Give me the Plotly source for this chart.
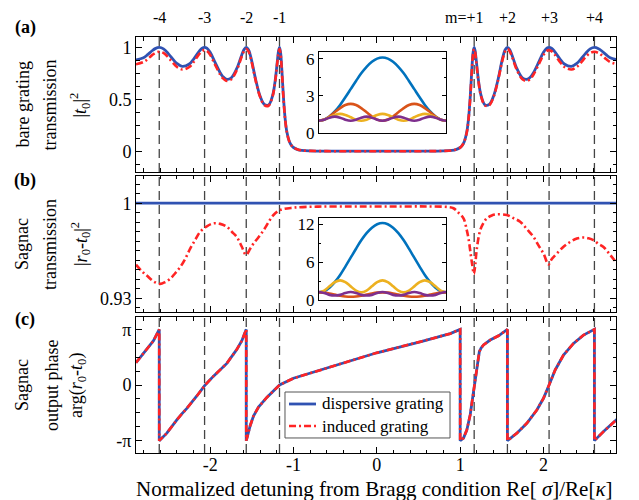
import plotly.graph_objects as go

FONT = "Liberation Serif, Times New Roman, serif"
BLUE = "#3052b2"
RED = "#ff2424"
C_BLUE = "#0072BD"
C_ORANGE = "#D95319"
C_YELLOW = "#EDB120"
C_PURPLE = "#7E2F8E"
PI = 3.14159

# ---------------- data ----------------
m_pos = [-2.611, -2.067, -1.567, -1.168, 1.168, 1.567, 2.067, 2.611]
m_labels = ["-4", "-3", "-2", "-1", "m=+1", "+2", "+3", "+4"]
series_names = ["dispersive grating", "induced grating"]

# panel (a): bare grating transmission |t0|^2
x_a = [-2.89, -2.8, -2.75, -2.7, -2.66, -2.611, -2.56, -2.5, -2.45, -2.4,
       -2.3355, -2.25, -2.2, -2.13, -2.1, -2.067, -2.04, -2.0, -1.95, -1.88,
       -1.85, -1.809, -1.75, -1.68, -1.62, -1.59, -1.5666, -1.54, -1.52, -1.5,
       -1.45, -1.4, -1.35, -1.3, -1.25, -1.22, -1.205, -1.19, -1.18, -1.1677,
       -1.155, -1.14, -1.12, -1.1, -1.08, -1.05, -1.02, -1.0, -0.95, -0.9,
       -0.8, -0.6, -0.3, 0.0,
       0.3, 0.6, 0.8, 0.9, 0.95, 1.0, 1.02, 1.05, 1.08, 1.1,
       1.12, 1.14, 1.155, 1.1677, 1.18, 1.19, 1.205, 1.22, 1.25, 1.3,
       1.35, 1.4, 1.45, 1.5, 1.52, 1.54, 1.5666, 1.59, 1.62, 1.68,
       1.75, 1.809, 1.85, 1.88, 1.95, 2.0, 2.04, 2.067, 2.1, 2.13,
       2.2, 2.25, 2.3355, 2.4, 2.45, 2.5, 2.56, 2.611, 2.66, 2.7,
       2.75, 2.8, 2.89]
t_disp = [0.880, 0.900, 0.930, 0.965, 0.988, 1.0, 0.986, 0.938, 0.889, 0.846,
          0.817, 0.840, 0.885, 0.964, 0.989, 1.0, 0.992, 0.952, 0.870, 0.756,
          0.721, 0.694, 0.704, 0.797, 0.930, 0.984, 1.0, 0.977, 0.930, 0.865,
          0.676, 0.529, 0.451, 0.445, 0.539, 0.680, 0.784, 0.898, 0.964, 1.0,
          0.952, 0.786, 0.513, 0.310, 0.187, 0.094, 0.051, 0.036, 0.016, 0.008,
          0.003, 0.0005, 0.0002, 0.0001,
          0.0002, 0.0005, 0.003, 0.008, 0.016, 0.036, 0.051, 0.094, 0.187, 0.310,
          0.513, 0.786, 0.952, 1.0, 0.964, 0.898, 0.784, 0.680, 0.539, 0.445,
          0.451, 0.529, 0.676, 0.865, 0.930, 0.977, 1.0, 0.984, 0.930, 0.797,
          0.704, 0.694, 0.721, 0.756, 0.870, 0.952, 0.992, 1.0, 0.989, 0.964,
          0.885, 0.840, 0.817, 0.846, 0.889, 0.938, 0.986, 1.0, 0.988, 0.965,
          0.930, 0.900, 0.880]
t_ind = [0.838, 0.859, 0.888, 0.923, 0.946, 0.958, 0.946, 0.901, 0.854, 0.813,
         0.787, 0.811, 0.857, 0.937, 0.962, 0.974, 0.966, 0.928, 0.848, 0.738,
         0.705, 0.679, 0.690, 0.783, 0.915, 0.969, 0.985, 0.962, 0.916, 0.852,
         0.666, 0.521, 0.444, 0.438, 0.531, 0.670, 0.772, 0.885, 0.950, 0.985,
         0.938, 0.774, 0.505, 0.305, 0.184, 0.093, 0.050, 0.035, 0.016, 0.008,
         0.003, 0.0005, 0.0002, 0.0001,
         0.0002, 0.0005, 0.003, 0.008, 0.016, 0.035, 0.050, 0.093, 0.184, 0.305,
         0.505, 0.774, 0.938, 0.985, 0.950, 0.885, 0.772, 0.670, 0.531, 0.438,
         0.444, 0.521, 0.666, 0.852, 0.916, 0.962, 0.985, 0.969, 0.915, 0.783,
         0.690, 0.679, 0.705, 0.738, 0.848, 0.928, 0.966, 0.974, 0.962, 0.937,
         0.857, 0.811, 0.787, 0.813, 0.854, 0.901, 0.946, 0.958, 0.946, 0.923,
         0.888, 0.859, 0.838]

# panel (b): Sagnac transmission |r0 - t0|^2
x_b_disp = [-2.89, 2.89]
s_disp = [1.0, 1.0]
x_b = [-2.89, -2.82, -2.76, -2.68, -2.6, -2.54, -2.48, -2.42, -2.36, -2.30,
       -2.24, -2.18, -2.12, -2.04, -1.96, -1.88, -1.80, -1.74, -1.68, -1.62,
       -1.57, -1.52, -1.48, -1.42, -1.36, -1.30, -1.24, -1.16, -1.0, -0.7,
       -0.3, 0.0, 0.3, 0.6, 0.85, 0.92, 0.98, 1.04, 1.08, 1.10,
       1.14, 1.165, 1.18, 1.20, 1.24, 1.28, 1.32, 1.38, 1.44, 1.56,
       1.64, 1.72, 1.80, 1.88, 1.94, 2.0, 2.06, 2.10, 2.16, 2.24,
       2.32, 2.40, 2.48, 2.54, 2.6, 2.66, 2.72, 2.80, 2.89]
s_ind = [0.9548, 0.950, 0.9468, 0.9425, 0.9407, 0.942, 0.9444, 0.9485, 0.953, 0.959,
         0.9666, 0.973, 0.979, 0.983, 0.9852, 0.9848, 0.9827, 0.979, 0.9752, 0.968,
         0.962, 0.9665, 0.9703, 0.975, 0.980, 0.986, 0.9913, 0.995, 0.9967, 0.9975,
         0.9976, 0.9976, 0.9976, 0.9976, 0.9972, 0.9963, 0.993, 0.9889, 0.980, 0.974,
         0.9567, 0.948, 0.9542, 0.9666, 0.980, 0.9855, 0.9889, 0.991, 0.9918, 0.9913,
         0.989, 0.9864, 0.981, 0.9752, 0.969, 0.963, 0.955, 0.959, 0.963, 0.968,
         0.9715, 0.974, 0.9748, 0.9742, 0.9728, 0.970, 0.9678, 0.962, 0.955]

# panel (c): Sagnac output phase arg(r0 - t0)
x_c = [-2.89, -2.84, -2.76, -2.68, -2.611, -2.611, -2.52, -2.46, -2.40, -2.34,
       -2.28, -2.16, -2.06, -1.96, -1.80, -1.68, -1.62, -1.567, -1.567, -1.55,
       -1.52, -1.48, -1.42, -1.32, -1.1677, -1.0, -0.68, 0.0, 0.52, 0.76,
       0.88, 1.0, 1.0, 1.04, 1.08, 1.12, 1.148, 1.172, 1.20, 1.23,
       1.25, 1.28, 1.36, 1.46, 1.567, 1.567, 1.68, 1.80, 1.92, 2.0,
       2.067, 2.14, 2.24, 2.36, 2.48, 2.611, 2.611, 2.72, 2.89]
phase = [1.26, 1.55, 1.97, 2.5, PI, -PI, -2.72, -2.33, -1.97, -1.63,
         -1.32, -0.62, 0.0, 0.5, 1.22, 2.01, 2.5, PI, -PI, -2.85,
         -2.3, -1.75, -1.25, -0.7, 0.0, 0.38, 0.85, 1.82, 2.44, 2.72,
         2.9, PI, -PI, -3.0, -2.54, -1.69, -0.75, 0.19, 1.13, 1.88,
         2.08, 2.26, 2.54, 2.78, PI, -PI, -2.72, -2.16, -1.41, -0.75,
         0.0, 0.85, 1.69, 2.35, 2.82, PI, -PI, -2.63, -1.9]

# insets: intensity along the grating at the resonances
z_in = [0.0, 0.042, 0.083, 0.125, 0.167, 0.208, 0.25, 0.292, 0.333, 0.375,
        0.417, 0.458, 0.5, 0.542, 0.583, 0.625, 0.667, 0.708, 0.75, 0.792,
        0.833, 0.875, 0.917, 0.958, 1.0]
ia_m1 = [1.0, 1.087, 1.342, 1.747, 2.275, 2.890, 3.55, 4.210, 4.825, 5.353,
         5.758, 6.013, 6.10, 6.013, 5.758, 5.353, 4.825, 4.210, 3.55, 2.890,
         2.275, 1.747, 1.342, 1.087, 1.0]
ia_m2 = [1.0, 1.091, 1.34, 1.68, 2.02, 2.269, 2.36, 2.269, 2.02, 1.68,
         1.34, 1.091, 1.0, 1.091, 1.34, 1.68, 2.02, 2.269, 2.36, 2.269,
         2.02, 1.68, 1.34, 1.091, 1.0]
ia_m3 = [1.0, 1.081, 1.275, 1.469, 1.55, 1.469, 1.275, 1.081, 1.0, 1.081,
         1.275, 1.469, 1.55, 1.469, 1.275, 1.081, 1.0, 1.081, 1.275, 1.469,
         1.55, 1.469, 1.275, 1.081, 1.0]
ia_m4 = [1.0, 1.083, 1.248, 1.33, 1.248, 1.083, 1.0, 1.083, 1.248, 1.33,
         1.248, 1.083, 1.0, 1.083, 1.248, 1.33, 1.248, 1.083, 1.0, 1.083,
         1.248, 1.33, 1.248, 1.083, 1.0]
ib_m1 = [1.2, 1.387, 1.937, 2.810, 3.95, 5.277, 6.7, 8.123, 9.45, 10.59,
         11.46, 12.01, 12.2, 12.01, 11.46, 10.59, 9.45, 8.123, 6.7, 5.277,
         3.95, 2.810, 1.937, 1.387, 1.2]
ib_m2 = [1.2, 1.153, 1.025, 0.85, 0.675, 0.547, 0.5, 0.547, 0.675, 0.85,
         1.025, 1.153, 1.2, 1.153, 1.025, 0.85, 0.675, 0.547, 0.5, 0.547,
         0.675, 0.85, 1.025, 1.153, 1.2]
ib_m3 = [1.2, 1.478, 2.15, 2.822, 3.1, 2.822, 2.15, 1.478, 1.2, 1.478,
         2.15, 2.822, 3.1, 2.822, 2.15, 1.478, 1.2, 1.478, 2.15, 2.822,
         3.1, 2.822, 2.15, 1.478, 1.2]
ib_m4 = [1.25, 1.1, 0.8, 0.7, 0.8, 1.1, 1.25, 1.1, 0.8, 0.7,
         0.8, 1.1, 1.25, 1.1, 0.8, 0.7, 0.8, 1.1, 1.25, 1.1,
         0.8, 0.7, 0.8, 1.1, 1.25]

# ---------------- figure ----------------
fig = go.Figure()
DASHDOT = "7px,3px,2px,3px"

def main_pair(xb, yb, xr, yr, xa, ya, shape):
    fig.add_trace(go.Scatter(x=xb, y=yb, xaxis=xa, yaxis=ya, mode="lines",
                             name=series_names[0], showlegend=False,
                             line=dict(color=BLUE, width=2.8, shape=shape)))
    fig.add_trace(go.Scatter(x=xr, y=yr, xaxis=xa, yaxis=ya, mode="lines",
                             name=series_names[1], showlegend=False,
                             line=dict(color=RED, width=2.6, dash=DASHDOT, shape=shape)))

main_pair(x_a, t_disp, x_a, t_ind, "x", "y", "spline")
main_pair(x_b_disp, s_disp, x_b, s_ind, "x2", "y2", "spline")
main_pair(x_c, phase, x_c, phase, "x3", "y3", "linear")

for ys, xa, ya in [([ia_m1, ia_m2, ia_m3, ia_m4], "x4", "y4"),
                   ([ib_m1, ib_m2, ib_m3, ib_m4], "x5", "y5")]:
    for yv, c in zip(ys, [C_BLUE, C_ORANGE, C_YELLOW, C_PURPLE]):
        fig.add_trace(go.Scatter(x=z_in, y=yv, xaxis=xa, yaxis=ya, mode="lines",
                                 showlegend=False,
                                 line=dict(color=c, width=2.6, shape="spline")))

TICKFONT = dict(family=FONT, size=18, color="black")
base = dict(showline=True, linecolor="black", linewidth=1, mirror="ticks",
            ticks="inside", ticklen=6, tickcolor="black", showgrid=False,
            zeroline=False, tickfont=TICKFONT)

def xmain(anchor, labels):
    d = dict(base)
    d.update(domain=[0, 1], range=[-2.89, 2.87], anchor=anchor,
             tickmode="array", tickvals=[-2, -1, 0, 1, 2],
             ticktext=["-2", "-1", "0", "1", "2"], showticklabels=labels,
             minor=dict(tickmode="linear", tick0=0, dtick=0.2, ticklen=3.5,
                        ticks="inside", tickcolor="black"))
    if labels:
        d.update(ticklabelstandoff=-5)
    return d

def ymain(anchor, dom, rng, tv, tt, t0, dt):
    d = dict(base)
    d.update(domain=dom, range=rng, anchor=anchor, tickmode="array",
             tickvals=tv, ticktext=tt,
             minor=dict(tickmode="linear", tick0=t0, dtick=dt, ticklen=3.5,
                        ticks="inside", tickcolor="black"))
    return d

def xinset(anchor):
    return dict(domain=[0.381, 0.646], range=[0, 1], anchor=anchor,
                showline=True, linecolor="black", linewidth=1, mirror=True,
                ticks="", showticklabels=False, showgrid=False, zeroline=False)

def yinset(anchor, dom, rng, tv, dt):
    d = dict(base)
    d.update(domain=dom, range=rng, anchor=anchor, tickmode="array",
             tickvals=tv, ticktext=[str(v) for v in tv], ticklen=4,
             tickfont=dict(family=FONT, size=17, color="black"),
             minor=dict(tickmode="linear", tick0=0, dtick=dt, ticklen=2.5,
                        ticks="inside", tickcolor="black"))
    return d

# page body has an 8px margin, so the figure is 8px smaller than the window
fig.update_layout(
    width=631, height=492,
    margin=dict(l=128, r=23, t=29, b=47),
    paper_bgcolor="white", plot_bgcolor="white",
    font=dict(family=FONT, size=18, color="black"),
    showlegend=False,
    xaxis=xmain("y", False),
    xaxis2=xmain("y2", False),
    xaxis3=xmain("y3", True),
    yaxis=ymain("x", [0.6755, 1.0], [-0.2, 1.1], [0, 0.5, 1], ["0", "0.5", "1"], 0, 0.125),
    yaxis2=ymain("x2", [0.3389, 0.6659], [0.92, 1.02], [0.93, 1.0], ["0.93", "1"], 0.93, 0.007),
    yaxis3=ymain("x3", [0.0, 0.3269], [-3.84, 3.84], [-PI, 0, PI], ["-\u03c0", "0", "\u03c0"], 0, PI / 4),
    xaxis4=xinset("y4"),
    yaxis4=yinset("x4", [0.769, 0.964], [0, 6.55], [0, 3, 6], 1.5),
    xaxis5=xinset("y5"),
    yaxis5=yinset("x5", [0.368, 0.565], [0, 13], [0, 6, 12], 3),
)

# dashed resonance lines in every panel
for ya in ["y", "y2", "y3"]:
    for xm in m_pos:
        fig.add_shape(type="line", xref="x", yref=ya + " domain", x0=xm, x1=xm,
                      y0=0, y1=1, layer="below",
                      line=dict(color="#444444", width=1.3, dash="9px,5px"))

# legend box drawn in panel (c)
fig.add_shape(type="rect", xref="paper", yref="paper", x0=0.3104, x1=0.6542,
              y0=0.0361, y1=0.1466, layer="above",
              fillcolor="white", line=dict(color="#555555", width=1))
fig.add_shape(type="line", xref="paper", yref="paper", x0=0.3188, x1=0.375,
              y0=0.1178, y1=0.1178, layer="above",
              line=dict(color=BLUE, width=2.8))
fig.add_shape(type="line", xref="paper", yref="paper", x0=0.3188, x1=0.375,
              y0=0.0649, y1=0.0649, layer="above",
              line=dict(color=RED, width=2.6, dash=DASHDOT))

ann = []
for name, yl in zip(series_names, [0.1178, 0.0649]):
    ann.append(dict(x=0.3833, xref="paper", y=yl, yref="paper", text=name,
                    showarrow=False, xanchor="left", yanchor="middle",
                    font=dict(family=FONT, size=17)))

for xm, lab in zip(m_pos, m_labels):
    if lab.startswith("m="):
        ann.append(dict(x=xm, xref="x", y=1.046, yref="paper", text=lab,
                        showarrow=False, xanchor="right", yanchor="middle", xshift=11,
                        borderpad=0, font=dict(family=FONT, size=16)))
    else:
        ann.append(dict(x=xm, xref="x", y=1.046, yref="paper", text=lab,
                        showarrow=False, xanchor="center", yanchor="middle",
                        borderpad=0, font=dict(family=FONT, size=16)))

# multi-line rotated y titles, one annotation per line (x in plot-fraction units)
title_lines = [
    ("bare grating", -0.2354, 0.8377),
    ("transmission", -0.1792, 0.8377),
    ("|<i>t</i><sub>0</sub>|<sup>2</sup>", -0.1167, 0.8377),
    ("Sagnac", -0.2375, 0.5024),
    ("transmission", -0.1792, 0.5024),
    ("|<i>r</i><sub>0</sub>-<i>t</i><sub>0</sub>|<sup>2</sup>", -0.1167, 0.5024),
    ("Sagnac", -0.2375, 0.1635),
    ("output phase", -0.1750, 0.1635),
    ("arg(<i>r</i><sub>0</sub>-<i>t</i><sub>0</sub>)", -0.1210, 0.1635),
]
for txt, xp, yc in title_lines:
    ann.append(dict(x=xp, xref="paper", y=yc, yref="paper", text=txt,
                    textangle=-90, showarrow=False, xanchor="center", yanchor="middle",
                    font=dict(family=FONT, size=18)))

for lab, yc in [("(a)", 1.024), ("(b)", 0.656), ("(c)", 0.322)]:
    ann.append(dict(x=-0.231, xref="paper", y=yc, yref="paper",
                    text="<b>" + lab + "</b>", showarrow=False,
                    xanchor="center", yanchor="middle",
                    font=dict(family=FONT, size=18)))

ann.append(dict(x=0.497, xref="paper", y=-0.086, yref="paper",
                text="Normalized detuning from Bragg condition Re[ <i>\u03c3</i>]/Re[<i>\u03ba</i>]",
                showarrow=False, xanchor="center", yanchor="middle",
                font=dict(family=FONT, size=21)))

fig.update_layout(annotations=ann)
fig.write_html("out.html")
